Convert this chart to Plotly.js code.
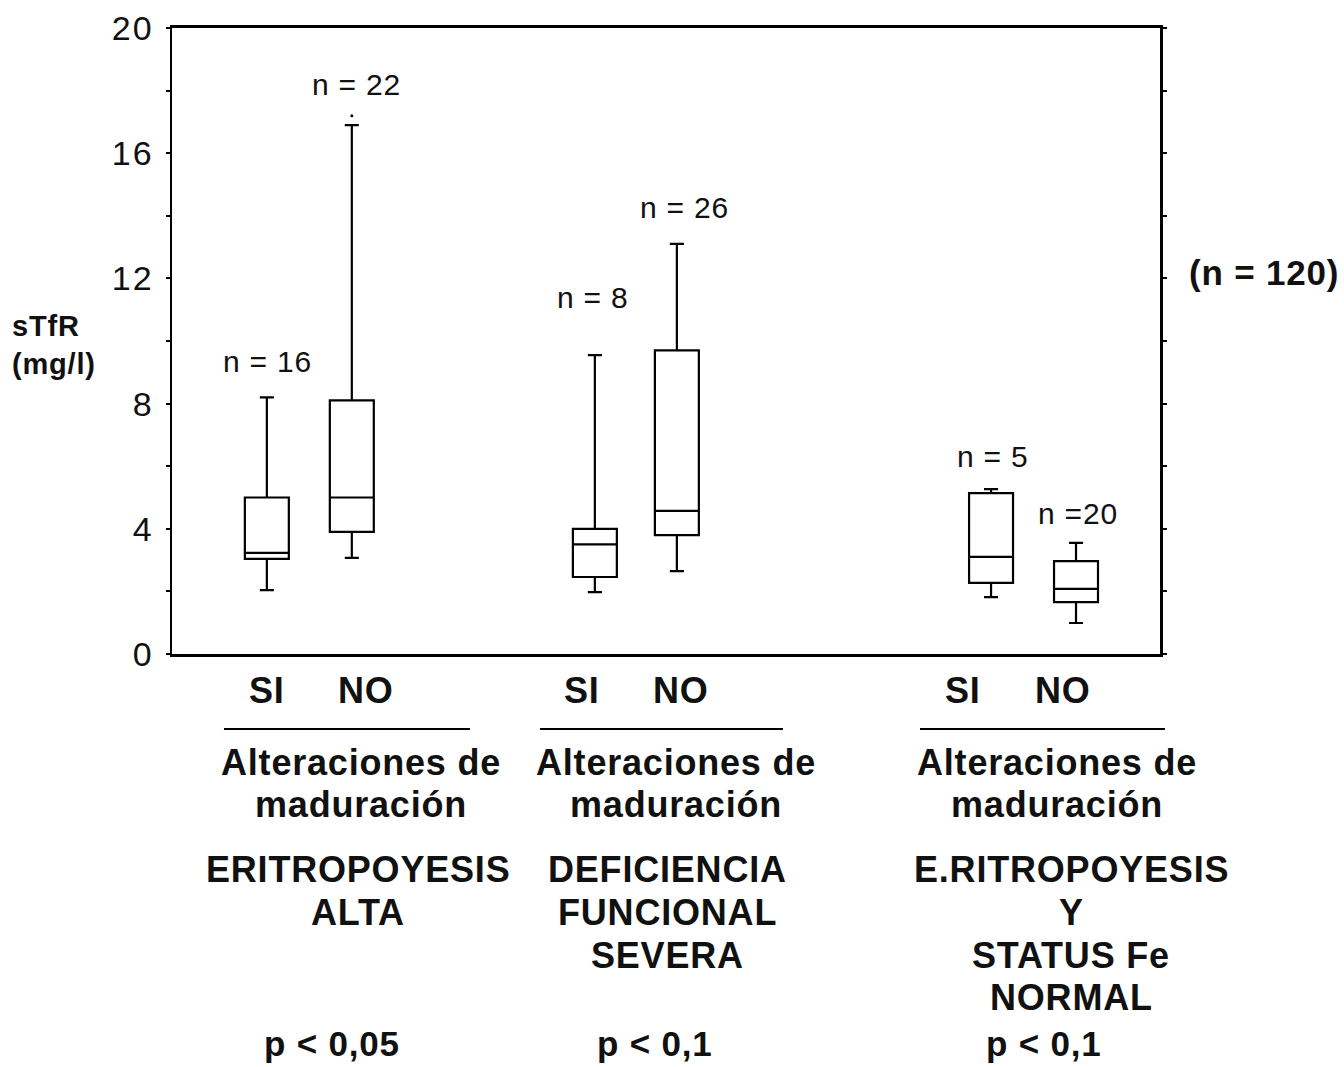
<!DOCTYPE html>
<html>
<head>
<meta charset="utf-8">
<script src="https://cdn.plot.ly/plotly-3.0.1.min.js"></script>
<style>
html,body{margin:0;padding:0;background:#fff;}
#chart{width:1344px;height:1067px;}
.annotation-text{letter-spacing:0.8px;}
.ytick text{letter-spacing:2px;}
</style>
</head>
<body>
<div id="chart"></div>
<script>
// ---- data ----
var boxNames = ['SI', 'NO', 'SI', 'NO', 'SI', 'NO'];
var boxPos = [0.96, 1.82, 4.28, 5.11, 8.29, 9.15];
var lowerFence = [2.04, 3.07, 1.98, 2.65, 1.82, 0.99];
var q1Vals = [3.04, 3.90, 2.46, 3.80, 2.27, 1.66];
var medianVals = [3.23, 5.00, 3.50, 4.57, 3.10, 2.08];
var q3Vals = [5.00, 8.10, 4.00, 9.70, 5.14, 2.97];
var upperFence = [8.20, 16.90, 9.55, 13.10, 5.27, 3.55];
var outlierX = [1.82];
var outlierY = [17.2];
var nLabels = ['n = 16', 'n = 22', 'n = 8', 'n = 26', 'n = 5', 'n =20'];
var nLabelX = [0.97, 1.87, 4.26, 5.19, 8.31, 9.17];
var nLabelY = [9.33, 18.2, 11.4, 14.28, 6.3, 4.5];
var siNoX = [0.962, 1.964, 4.150, 5.152, 8.006, 9.018];
var groupSub = [['Alteraciones de', 'maduración'], ['Alteraciones de', 'maduración'], ['Alteraciones de', 'maduración']];
var groupNames = [['ERITROPOYESIS', 'ALTA'], ['DEFICIENCIA', 'FUNCIONAL', 'SEVERA'], ['E.RITROPOYESIS', 'Y', 'STATUS Fe', 'NORMAL']];
var pValues = ['p < 0,05', 'p < 0,1', 'p < 0,1'];
var yTitle = 'sTfR<br>(mg/l)';
var totalN = '(n = 120)';

// ---- layout helpers ----
var FONT = 'Liberation Sans, Arial, Helvetica, sans-serif';
var subX = [0.1913, 0.5101, 0.8957];
var subLineY = [-0.1741, -0.2412];
var nameX = [0.1883, 0.5020, 0.9100];
var nameLineY = [-0.3450, -0.4137, -0.4824, -0.5495];
var pX = [0.162, 0.489, 0.8826];
var ulX0 = [0.0526, 0.3725, 0.7571];
var ulX1 = [0.3016, 0.6184, 1.005];

var traces = [];
for (var i = 0; i < boxNames.length; i++) {
  traces.push({
    type: 'box',
    name: boxNames[i],
    x: [boxPos[i]],
    q1: [q1Vals[i]],
    median: [medianVals[i]],
    q3: [q3Vals[i]],
    lowerfence: [lowerFence[i]],
    upperfence: [upperFence[i]],
    width: 0.445,
    whiskerwidth: 0.32,
    fillcolor: '#ffffff',
    line: {color: '#000000', width: 2.2},
    boxpoints: false,
    hoverinfo: 'skip',
    showlegend: false
  });
}
traces.push({
  type: 'scatter', mode: 'markers', x: outlierX, y: outlierY,
  marker: {color: '#000', size: 3}, showlegend: false, hoverinfo: 'skip'
});

function boldAnn(text, x, y, xref, size) {
  return {x: x, y: y, xref: xref || 'paper', yref: 'paper', text: '<b>' + text + '</b>',
    showarrow: false, xanchor: 'center', yanchor: 'middle',
    font: {family: FONT, size: size || 36, color: '#111'}};
}

var annotations = [];
for (var i = 0; i < nLabels.length; i++) {
  annotations.push({x: nLabelX[i], y: nLabelY[i], xref: 'x', yref: 'y', text: nLabels[i],
    showarrow: false, xanchor: 'center', yanchor: 'middle',
    font: {family: FONT, size: 30, color: '#111'}});
}
for (var i = 0; i < boxNames.length; i++) {
  annotations.push(boldAnn(boxNames[i], siNoX[i], -0.0591, 'x'));
}
for (var g = 0; g < 3; g++) {
  for (var k = 0; k < groupSub[g].length; k++) {
    annotations.push(boldAnn(groupSub[g][k], subX[g], subLineY[k]));
  }
  for (var k = 0; k < groupNames[g].length; k++) {
    annotations.push(boldAnn(groupNames[g][k], nameX[g], nameLineY[k]));
  }
  annotations.push(boldAnn(pValues[g], pX[g], -0.6230, 'paper', 35));
}
annotations.push({x: -0.164, y: 0.493, xref: 'paper', yref: 'paper', text: '<b>' + yTitle + '</b>',
  showarrow: false, xanchor: 'left', yanchor: 'middle', align: 'left',
  font: {family: FONT, size: 29, color: '#111'}});
annotations.push({x: 1.0, y: 0.61, xref: 'paper', yref: 'paper', text: '<b>' + totalN + '</b>',
  showarrow: false, xanchor: 'left', yanchor: 'middle', xshift: 27,
  font: {family: FONT, size: 35, color: '#111'}});

var shapes = [];
for (var g = 0; g < 3; g++) {
  shapes.push({type: 'line', xref: 'paper', yref: 'paper', x0: ulX0[g], x1: ulX1[g], y0: -0.1198, y1: -0.1198,
    line: {color: '#000', width: 2.2}});
}

var layout = {
  width: 1344, height: 1067,
  margin: {l: 172, r: 184, t: 28, b: 413},
  paper_bgcolor: '#fff', plot_bgcolor: '#fff',
  showlegend: false,
  xaxis: {range: [0, 10], showgrid: false, zeroline: false, showticklabels: false, ticks: '',
    showline: true, mirror: true, linecolor: '#000', linewidth: 3},
  yaxis: {range: [0, 20], dtick: 4, tick0: 0, showgrid: false, zeroline: false,
    ticks: 'outside', ticklen: 4, tickwidth: 2, tickcolor: '#000',
    minor: {dtick: 2, ticks: 'outside', ticklen: 4, tickwidth: 2, tickcolor: '#000'},
    showline: true, mirror: 'ticks', linecolor: '#000', linewidth: 2.5,
    tickfont: {family: FONT, size: 34, color: '#111'}, ticklabelstandoff: 5},
  annotations: annotations,
  shapes: shapes
};

Plotly.newPlot('chart', traces, layout, {staticPlot: true, displayModeBar: false});
</script>
</body>
</html>
